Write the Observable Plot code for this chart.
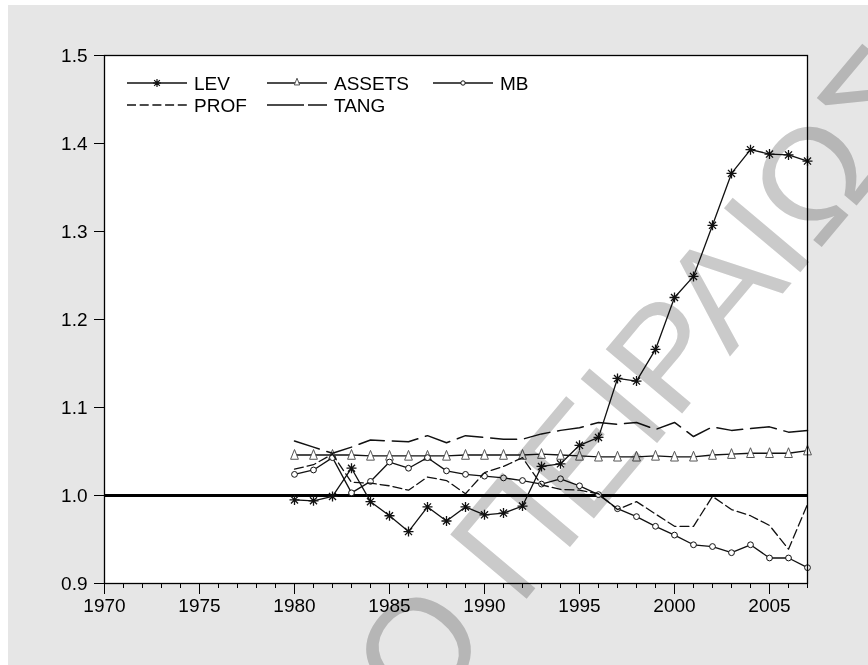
<!DOCTYPE html>
<html><head><meta charset="utf-8">
<script src="https://cdn.jsdelivr.net/npm/d3@7"></script>
<script src="https://cdn.jsdelivr.net/npm/@observablehq/plot@0.6"></script>
<style>
html,body{margin:0;padding:0;background:#fff;width:868px;height:665px;overflow:hidden}
#wrap{position:relative;width:868px;height:665px}
#bg{position:absolute;left:8px;top:5px;right:0;bottom:0;background:#e6e6e6}
#chart{position:absolute;left:0;top:0}
#over{position:absolute;left:0;top:0;pointer-events:none;mix-blend-mode:multiply}
</style></head><body>
<div id="wrap"><div id="bg"></div><div id="chart"></div><svg id="over" width="868" height="665"></svg></div>
<script>
// ---- data ----
const years = [1980,1981,1982,1983,1984,1985,1986,1987,1988,1989,1990,1991,1992,1993,
               1994,1995,1996,1997,1998,1999,2000,2001,2002,2003,2004,2005,2006,2007];
const LEV    = [0.995,0.994,0.999,1.031,0.993,0.977,0.959,0.987,0.971,0.987,0.978,0.980,0.988,1.033,
                1.036,1.057,1.066,1.133,1.130,1.166,1.225,1.249,1.307,1.366,1.393,1.388,1.387,1.380];
const ASSETS = [1.046,1.046,1.046,1.046,1.045,1.045,1.045,1.045,1.045,1.046,1.046,1.046,1.046,1.047,
                1.046,1.045,1.044,1.044,1.044,1.045,1.044,1.044,1.046,1.047,1.048,1.048,1.048,1.051];
const MB     = [1.024,1.029,1.043,1.003,1.016,1.038,1.031,1.043,1.028,1.024,1.022,1.020,1.017,1.013,
                1.019,1.011,1.001,0.985,0.976,0.965,0.955,0.944,0.942,0.935,0.944,0.929,0.929,0.918];
const PROF   = [1.030,1.035,1.047,1.015,1.014,1.011,1.006,1.021,1.017,1.002,1.026,1.033,1.043,1.012,
                1.007,1.006,1.002,0.984,0.993,0.979,0.965,0.965,0.999,0.984,0.977,0.966,0.939,0.990];
const TANG   = [1.062,1.055,1.048,1.055,1.063,1.062,1.061,1.068,1.060,1.068,1.066,1.064,1.064,1.070,
                1.074,1.077,1.083,1.081,1.083,1.075,1.083,1.067,1.078,1.074,1.076,1.078,1.072,1.074];
const refValue = [1.0];
const yTicks = [0.9,1.0,1.1,1.2,1.3,1.4,1.5];
const xMajorTicks = [1970,1975,1980,1985,1990,1995,2000,2005];
const xMinorTicks = [1970,1971,1972,1973,1974,1975,1976,1977,1978,1979,1980,1981,1982,1983,1984,1985,
                     1986,1987,1988,1989,1990,1991,1992,1993,1994,1995,1996,1997,1998,1999,2000,2001,
                     2002,2003,2004,2005,2006,2007];
const seriesNames = ["LEV","ASSETS","MB","PROF","TANG"];
const watermarkText = "ΠΑΝΕΠΙΣΤΗΜΙΟ ΠΕΙΡΑΙΩΣ";

const toRows = vals => years.map((y,i)=>({year:y, value:vals[i]}));
const levRows = toRows(LEV), assetsRows = toRows(ASSETS), mbRows = toRows(MB),
      profRows = toRows(PROF), tangRows = toRows(TANG);

// ---- custom symbols ----
const asterisk8 = {draw(ctx,size){const r=Math.sqrt(size/Math.PI), d=r*0.7071;
  ctx.moveTo(-r,0);ctx.lineTo(r,0);ctx.moveTo(0,-r);ctx.lineTo(0,r);
  ctx.moveTo(-d,-d);ctx.lineTo(d,d);ctx.moveTo(-d,d);ctx.lineTo(d,-d);}};
const triUp = {draw(ctx,size){const r=Math.sqrt(size/Math.PI);
  ctx.moveTo(0,-r*1.1);ctx.lineTo(r*0.78,r*0.85);ctx.lineTo(-r*0.78,r*0.85);ctx.closePath();}};

const FONT = "'Liberation Sans', Arial, sans-serif";

const chart = Plot.plot({
  width:868, height:665,
  marginLeft:104, marginRight:61, marginTop:55, marginBottom:82,
  style:{background:"transparent", fontFamily:FONT, fontSize:"19px", color:"#000"},
  x:{domain:[1970,2007]},
  y:{domain:[0.9,1.5]},
  marks:[
    Plot.frame({fill:"white", stroke:null}),
    Plot.axisY({ticks:yTicks, tickSize:10, tickPadding:7, tickFormat:d3.format(".1f"), label:null, fontSize:19}),
    Plot.axisX({ticks:xMinorTicks, tickSize:5, tickFormat:()=>"", label:null}),
    Plot.axisX({ticks:xMajorTicks, tickSize:11, tickPadding:4, tickFormat:d=>String(d), label:null, fontSize:19}),
    Plot.ruleY(refValue, {stroke:"black", strokeWidth:3}),
    Plot.line(levRows, {x:"year", y:"value", stroke:"#111", strokeWidth:1.3}),
    Plot.dot(levRows, {x:"year", y:"value", symbol:asterisk8, r:5, stroke:"#111", strokeWidth:1.3, fill:"none"}),
    Plot.line(assetsRows, {x:"year", y:"value", stroke:"#111", strokeWidth:1.3}),
    Plot.dot(assetsRows, {x:"year", y:"value", symbol:triUp, r:5, stroke:"#555", strokeWidth:1, fill:"white"}),
    Plot.line(mbRows, {x:"year", y:"value", stroke:"#111", strokeWidth:1.3}),
    Plot.dot(mbRows, {x:"year", y:"value", r:2.9, stroke:"#111", strokeWidth:1, fill:"white"}),
    Plot.line(profRows, {x:"year", y:"value", stroke:"#111", strokeWidth:1.3, strokeDasharray:"9,4"}),
    Plot.line(tangRows, {x:"year", y:"value", stroke:"#111", strokeWidth:1.5, strokeDasharray:"26,8"}),
    Plot.frame({stroke:"black", strokeWidth:1.3})
  ]
});
document.getElementById("chart").appendChild(chart);

// ---- overlay: watermark + legend ----
const over = d3.select("#over");
over.append("text")
  .attr("transform","translate(945,100) rotate(-50)")
  .attr("text-anchor","end")
  .attr("font-family",FONT).attr("font-size",145)
  .attr("fill","#cacaca")
  .text(watermarkText);

const legendCols = [127,267,433], legendRows = [83,105];
const legendSpec = [
  {name:seriesNames[0], c:0, r:0, dash:null, marker:"ast"},
  {name:seriesNames[1], c:1, r:0, dash:null, marker:"tri"},
  {name:seriesNames[2], c:2, r:0, dash:null, marker:"circ"},
  {name:seriesNames[3], c:0, r:1, dash:"9,3.7", marker:null},
  {name:seriesNames[4], c:1, r:1, dash:"37,4", marker:null}
];
const lg = over.append("g").attr("font-family",FONT).attr("font-size",19);
for (const it of legendSpec){
  const x0 = legendCols[it.c], y0 = legendRows[it.r], x1 = x0+60, xm = x0+30;
  lg.append("line").attr("x1",x0).attr("x2",x1).attr("y1",y0).attr("y2",y0)
    .attr("stroke","#111").attr("stroke-width",1.3).attr("stroke-dasharray",it.dash);
  if (it.marker==="ast") lg.append("path").attr("transform",`translate(${xm},${y0})`)
      .attr("d",d3.symbol(asterisk8, Math.PI*16)()).attr("stroke","#111").attr("stroke-width",1.2).attr("fill","none");
  if (it.marker==="tri") lg.append("path").attr("transform",`translate(${xm},${y0-1})`)
      .attr("d",d3.symbol(triUp, Math.PI*12)()).attr("stroke","#555").attr("stroke-width",1).attr("fill","white");
  if (it.marker==="circ") lg.append("circle").attr("cx",xm).attr("cy",y0).attr("r",2.2)
      .attr("stroke","#111").attr("stroke-width",1).attr("fill","white");
  lg.append("text").attr("x",x1+7).attr("y",y0).attr("dy","0.36em").attr("fill","#000").text(it.name);
}
</script>
</body></html>
